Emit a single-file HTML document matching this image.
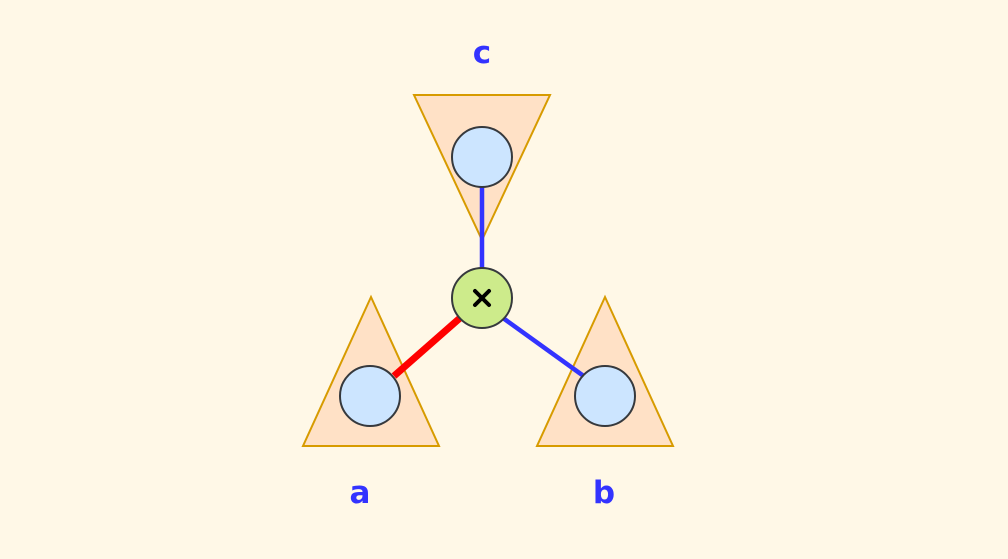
<!DOCTYPE html>
<html><head><style>html,body{margin:0;padding:0;background:#fff8e7;}</style></head>
<body>
<svg width="1008" height="554" xmlns="http://www.w3.org/2000/svg">
<rect width="1008" height="554" fill="#fff8e7"/>
<g fill="#ffe1c6" stroke="#d79b00" stroke-width="2">
<polygon points="414,95 550,95 482,240"/>
<polygon points="371,297 303,446 439,446"/>
<polygon points="605,297 537,446 673,446"/>
</g>
<line x1="482" y1="187" x2="482" y2="268" stroke="#3333ff" stroke-width="4.5"/>
<line x1="460" y1="318" x2="394" y2="376" stroke="#ff0000" stroke-width="7"/>
<line x1="503" y1="318" x2="585" y2="377" stroke="#3333ff" stroke-width="4.5"/>
<g fill="#cce5ff" stroke="#36393d" stroke-width="2">
<circle cx="482" cy="157" r="30"/>
<circle cx="370" cy="396" r="30"/>
<circle cx="605" cy="396" r="30"/>
</g>
<circle cx="482" cy="298" r="30" fill="#cdeb8b" stroke="#36393d" stroke-width="2"/>
<g stroke="#000" stroke-width="4" stroke-linecap="round">
<line x1="475" y1="291" x2="489" y2="305"/><line x1="489" y1="291" x2="475" y2="305"/>
</g>
<g font-family="DejaVu Sans, sans-serif" font-weight="bold" font-size="31" fill="#3333ff" text-anchor="middle">
<text x="482" y="63">c</text>
<text x="360" y="503">a</text>
<text x="604" y="503">b</text>
</g>
</svg>
</body></html>
